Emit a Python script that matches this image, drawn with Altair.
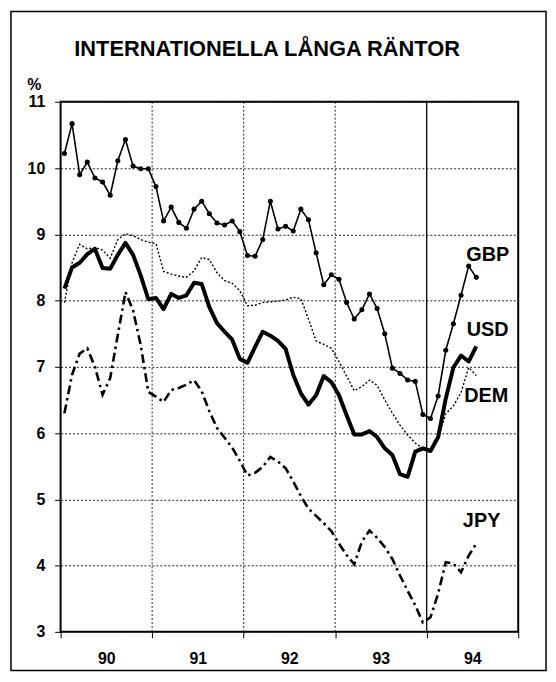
import altair as alt
import pandas as pd

# ---- data (monthly, Jan 1990 .. Jun 1994) ----
gbp = [10.22, 10.67, 9.90, 10.09, 9.85, 9.79, 9.59, 10.11, 10.43, 10.03, 9.99, 9.99,
       9.72, 9.20, 9.41, 9.18, 9.09, 9.38, 9.50, 9.31, 9.17, 9.14, 9.20, 9.04,
       8.68, 8.67, 8.92, 9.50, 9.08, 9.12, 9.05, 9.38, 9.22, 8.72, 8.24, 8.39,
       8.32, 7.97, 7.72, 7.86, 8.10, 7.88, 7.50, 6.98, 6.90, 6.80, 6.78, 6.28,
       6.22, 6.56, 7.25, 7.65, 8.08, 8.52, 8.35]
usd = [8.18, 8.50, 8.57, 8.70, 8.78, 8.49, 8.48, 8.69, 8.87, 8.69, 8.38, 8.02,
       8.04, 7.87, 8.10, 8.04, 8.08, 8.27, 8.25, 7.90, 7.66, 7.53, 7.41, 7.12,
       7.06, 7.30, 7.53, 7.47, 7.39, 7.27, 6.88, 6.60, 6.43, 6.57, 6.86, 6.77,
       6.57, 6.27, 5.98, 5.98, 6.03, 5.94, 5.77, 5.67, 5.38, 5.34, 5.72, 5.77,
       5.73, 5.94, 6.52, 6.99, 7.17, 7.08, 7.31]
dem = [7.97, 8.57, 8.85, 8.78, 8.80, 8.76, 8.64, 8.92, 9.01, 8.98, 8.92, 8.88,
       8.86, 8.44, 8.40, 8.37, 8.35, 8.45, 8.65, 8.62, 8.42, 8.30, 8.26, 8.15,
       7.92, 7.93, 7.97, 7.98, 7.99, 8.01, 8.05, 8.03, 7.72, 7.39, 7.34, 7.28,
       7.08, 6.86, 6.64, 6.70, 6.80, 6.72, 6.50, 6.30, 6.12, 5.97, 5.85, 5.77,
       5.70, 5.92, 6.29, 6.41, 6.61, 6.99, 6.87]
jpy = [6.30, 6.88, 7.20, 7.28, 7.00, 6.58, 6.83, 7.48, 8.13, 7.85, 7.33, 6.62,
       6.55, 6.47, 6.65, 6.68, 6.73, 6.80, 6.63, 6.33, 6.08, 5.93, 5.78, 5.58,
       5.36, 5.40, 5.49, 5.64, 5.57, 5.47, 5.27, 5.05, 4.86, 4.75, 4.64, 4.52,
       4.33, 4.16, 4.02, 4.36, 4.53, 4.42, 4.28, 4.10, 3.85, 3.62, 3.40, 3.14,
       3.22, 3.58, 4.05, 4.03, 3.90, 4.15, 4.33]

years = ["90", "91", "92", "93", "94"]
year_bounds = [0, 12, 24, 36, 48, 60]
y_ticks = [3, 4, 5, 6, 7, 8, 9, 10, 11]

series_names = ["GBP", "USD", "DEM", "JPY"]
label_x = [56.0, 56.0, 55.8, 55.2]
label_y = [8.69, 7.56, 6.56, 4.68]

TITLE = "INTERNATIONELLA LÅNGA RÄNTOR"
FONT = "Liberation Sans"
W, H = 461, 534

t = [i + 0.5 for i in range(len(gbp))]

def frame(vals):
    return pd.DataFrame({"t": t, "v": vals})

xscale = alt.Scale(domain=[0, 60], nice=False, zero=False)
yscale = alt.Scale(domain=[3, 11], nice=False, zero=False)

label_expr = "[" + ",".join("'%s'" % y for y in years) + ",''][datum.value/12]"

xaxis = alt.Axis(values=year_bounds, labelExpr=label_expr, labelOffset=46,
                 grid=False, domain=False, tickSize=6, tickColor="black",
                 labelFont=FONT, labelFontSize=16, labelFontWeight="bold",
                 labelColor="black", labelPadding=13, title=None,
                 labelOverlap=False, labelBound=False, labelFlush=False)
yaxis = alt.Axis(values=y_ticks, format="d", grid=True, gridDash=[2, 2], gridColor="#222",
                 gridWidth=1, domain=False, tickSize=6, tickColor="black",
                 labelFont=FONT, labelFontSize=16, labelFontWeight="bold",
                 labelColor="black", labelPadding=10,
                 title="%", titleAngle=0, titleX=-27, titleY=-17,
                 titleAlign="center", titleBaseline="middle",
                 titleFont=FONT, titleFontSize=16, titleFontWeight="bold",
                 titleColor="black")

X = alt.X("t:Q", scale=xscale, axis=xaxis)
Y = alt.Y("v:Q", scale=yscale, axis=yaxis)

base_x = alt.X("t:Q", scale=xscale)
base_y = alt.Y("v:Q", scale=yscale)

axes_layer = alt.Chart(frame(usd)).mark_line(opacity=0).encode(x=X, y=Y)

grid_df = pd.DataFrame({"t": [12, 24, 36]})
vgrid = alt.Chart(grid_df).mark_rule(color="#222", strokeWidth=1, strokeDash=[2, 2]).encode(x=base_x)
solid_df = pd.DataFrame({"t": [48]})
vsolid = alt.Chart(solid_df).mark_rule(color="black", strokeWidth=1.3).encode(x=base_x)

dem_l = alt.Chart(frame(dem)).mark_line(color="black", strokeWidth=1.4, strokeDash=[2, 2]).encode(x=base_x, y=base_y)
jpy_l = alt.Chart(frame(jpy)).mark_line(color="black", strokeWidth=2.6, strokeDash=[9, 4, 2.5, 4]).encode(x=base_x, y=base_y)
usd_l = alt.Chart(frame(usd)).mark_line(color="black", strokeWidth=4, strokeJoin="round").encode(x=base_x, y=base_y)
gbp_l = alt.Chart(frame(gbp)).mark_line(color="black", strokeWidth=1.6,
                                        point=alt.OverlayMarkDef(filled=True, color="black", size=26)).encode(x=base_x, y=base_y)

lab_df = pd.DataFrame({"t": label_x, "v": label_y, "name": series_names})
labels = alt.Chart(lab_df).mark_text(font=FONT, fontSize=20, fontWeight="bold",
                                     color="black", align="center", baseline="middle").encode(
    x=base_x, y=base_y, text="name:N")

title_mark = alt.Chart(pd.DataFrame({"title": [TITLE]})).mark_text(
    font=FONT, fontSize=22, fontWeight="bold", color="black",
    align="center", baseline="alphabetic").encode(
    x=alt.value(208), y=alt.value(-46), text="title:N")

box = alt.Chart(pd.DataFrame({"a": [0]})).mark_rect(fillOpacity=0, stroke="black", strokeWidth=1.5).encode(
    x=alt.value(-50), x2=alt.value(W + 28), y=alt.value(-91), y2=alt.value(H + 39))

chart = alt.layer(box, axes_layer, vgrid, vsolid, dem_l, jpy_l, usd_l, gbp_l, labels, title_mark).properties(
    width=W, height=H,
    background="white",
    autosize=alt.AutoSizeParams(type="none"),
    padding={"left": 53, "top": 92, "right": 30, "bottom": 44},
).configure_view(stroke="black", strokeWidth=2)

chart.save("out.html", embed_options={"renderer": "svg", "actions": False})
